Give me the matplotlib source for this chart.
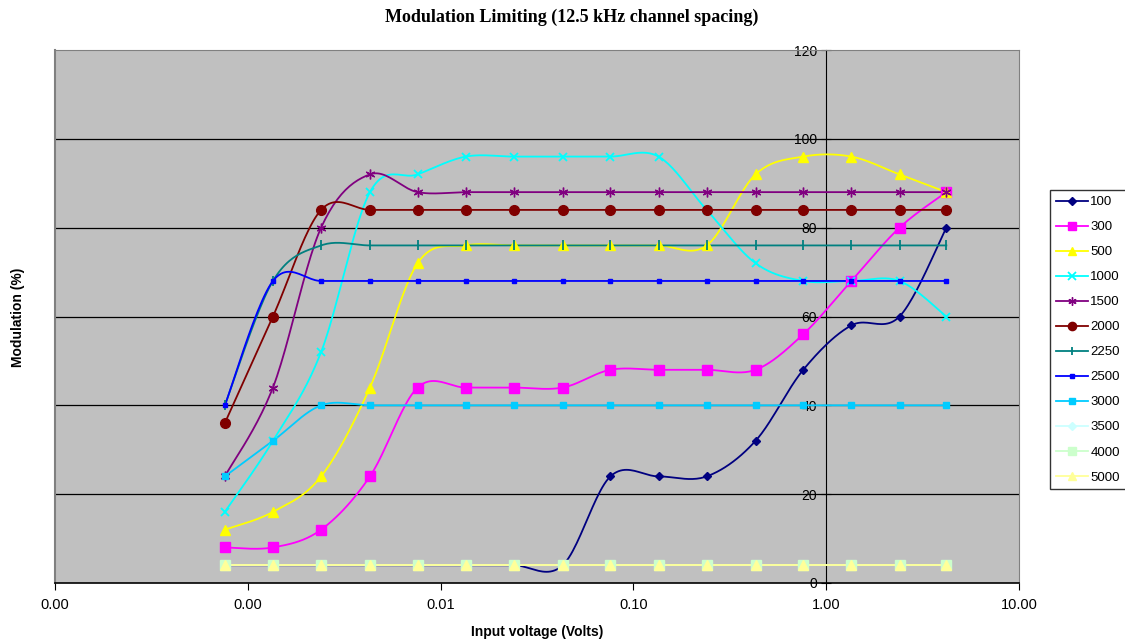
import matplotlib
matplotlib.use("Agg")
import matplotlib.pyplot as plt
import numpy as np
from matplotlib.lines import Line2D
from matplotlib.ticker import FixedLocator, FuncFormatter, NullLocator

# input voltage (V), 5 dB steps
volts = [0.00076, 0.00135, 0.0024, 0.0043, 0.0076, 0.0135, 0.024, 0.043,
         0.076, 0.135, 0.24, 0.43, 0.76, 1.35, 2.4, 4.2]

# modulation (%) per audio frequency (Hz)
mod_100 = [4, 4, 4, 4, 4, 4, 4, 4, 24, 24, 24, 32, 48, 58, 60, 80]
mod_300 = [8, 8, 12, 24, 44, 44, 44, 44, 48, 48, 48, 48, 56, 68, 80, 88]
mod_500 = [12, 16, 24, 44, 72, 76, 76, 76, 76, 76, 76, 92, 96, 96, 92, 88]
mod_1000 = [16, 32, 52, 88, 92, 96, 96, 96, 96, 96, 84, 72, 68, 68, 68, 60]
mod_1500 = [24, 44, 80, 92, 88, 88, 88, 88, 88, 88, 88, 88, 88, 88, 88, 88]
mod_2000 = [36, 60, 84, 84, 84, 84, 84, 84, 84, 84, 84, 84, 84, 84, 84, 84]
mod_2250 = [40, 68, 76, 76, 76, 76, 76, 76, 76, 76, 76, 76, 76, 76, 76, 76]
mod_2500 = [40, 68, 68, 68, 68, 68, 68, 68, 68, 68, 68, 68, 68, 68, 68, 68]
mod_3000 = [24, 32, 40, 40, 40, 40, 40, 40, 40, 40, 40, 40, 40, 40, 40, 40]
mod_3500 = [4, 4, 4, 4, 4, 4, 4, 4, 4, 4, 4, 4, 4, 4, 4, 4]
mod_4000 = [4, 4, 4, 4, 4, 4, 4, 4, 4, 4, 4, 4, 4, 4, 4, 4]
mod_5000 = [4, 4, 4, 4, 4, 4, 4, 4, 4, 4, 4, 4, 4, 4, 4, 4]

series_names = ["100", "300", "500", "1000", "1500", "2000", "2250", "2500",
                "3000", "3500", "4000", "5000"]
series_data = [mod_100, mod_300, mod_500, mod_1000, mod_1500, mod_2000,
               mod_2250, mod_2500, mod_3000, mod_3500, mod_4000, mod_5000]

# excel-ish styles: colour, marker, marker size
styles = [
    ("#000080", "D", 4.5),
    ("#FF00FF", "s", 6.5),
    ("#FFFF00", "^", 6.5),
    ("#00FFFF", "x", 6),
    ("#800080", (6, 2, 0), 7),
    ("#800000", "o", 7),
    ("#008080", "|", 7),
    ("#0000FF", "s", 3.5),
    ("#00CCFF", "s", 4.5),
    ("#CCFFFF", "D", 5),
    ("#CCFFCC", "s", 7),
    ("#FFFF99", "^", 6.5),
]


# smoothed line like Excel (catmull-rom in log-x / y space)
def smooth(xs, ys, n=24):
    lx = np.log10(xs)
    y = np.asarray(ys, dtype=float)
    px = np.concatenate([[lx[0]], lx, [lx[-1]]])
    py = np.concatenate([[y[0]], y, [y[-1]]])
    out_x, out_y = [], []
    t = np.linspace(0, 1, n, endpoint=False)
    h00 = 2 * t**3 - 3 * t**2 + 1
    h10 = t**3 - 2 * t**2 + t
    h01 = -2 * t**3 + 3 * t**2
    h11 = t**3 - t**2
    for i in range(1, len(px) - 2):
        mx0 = (px[i + 1] - px[i - 1]) / 2
        mx1 = (px[i + 2] - px[i]) / 2
        my0 = (py[i + 1] - py[i - 1]) / 2
        my1 = (py[i + 2] - py[i]) / 2
        out_x.append(h00 * px[i] + h10 * mx0 + h01 * px[i + 1] + h11 * mx1)
        out_y.append(h00 * py[i] + h10 * my0 + h01 * py[i + 1] + h11 * my1)
    out_x.append([lx[-1]])
    out_y.append([y[-1]])
    return 10 ** np.concatenate(out_x), np.concatenate(out_y)


fig = plt.figure(figsize=(11.25, 6.42), dpi=100)
ax = fig.add_axes([55 / 1125, 1 - 583 / 642, (1019 - 55) / 1125, (583 - 50) / 642])
ax.set_facecolor("#C0C0C0")
ax.set_xscale("log")
ax.set_xlim(0.0001, 10)
ax.set_ylim(0, 120)

for y in [20, 40, 60, 80, 100]:
    ax.axhline(y, color="black", lw=0.9, zorder=1)

handles = []
for name, vals, (col, mk, ms) in zip(series_names, series_data, styles):
    sx, sy = smooth(volts, vals)
    ax.plot(sx, sy, color=col, lw=1.3, zorder=3)
    mew = 1.3 if mk in ("x", "|") else 1.0
    ax.plot(volts, vals, ls="none", marker=mk, ms=ms, color=col,
            markeredgecolor=col, mew=mew, zorder=4, clip_on=False)
    handles.append(Line2D([], [], color=col, lw=1.3, marker=mk, ms=ms,
                          markeredgecolor=col, mew=mew))

# axes: y axis crosses at 1 V
for s in ["top", "right"]:
    ax.spines[s].set_color("#808080")
ax.spines["left"].set_position(("data", 1))
ax.spines["left"].set_color("black")
ax.spines["left"].set_zorder(2)
ax.spines["bottom"].set_color("black")
ax.spines["bottom"].set_linewidth(1.2)

# outer border of plot area on the left side
ax.plot([0, 0], [0, 1], transform=ax.transAxes, color="#808080", lw=1.5, clip_on=False)

ax.set_yticks([0, 20, 40, 60, 80, 100, 120])
ax.tick_params(axis="y", direction="inout", length=7, pad=3,
               labelsize=10, labelcolor="black")
ax.xaxis.set_major_locator(FixedLocator([0.0001, 0.001, 0.01, 0.1, 1, 10]))
ax.xaxis.set_minor_locator(NullLocator())
ax.xaxis.set_major_formatter(FuncFormatter(lambda v, p: f"{v:.2f}"))
ax.tick_params(axis="x", direction="out", length=5, pad=6, labelsize=10.5)
for lab in ax.get_xticklabels() + ax.get_yticklabels():
    lab.set_family("Liberation Sans")

fig.text(572 / 1125, 1 - 17 / 642, "Modulation Limiting (12.5 kHz channel spacing)",
         ha="center", va="center", fontsize=13, fontweight="bold",
         family="Liberation Serif")
fig.text(537 / 1125, 1 - 632 / 642, "Input voltage (Volts)", ha="center",
         va="center", fontsize=10, fontweight="bold", family="Liberation Sans")
fig.text(18 / 1125, 1 - 317 / 642, "Modulation (%)", ha="center", va="center",
         rotation=90, fontsize=10, fontweight="bold", family="Liberation Sans")

leg = fig.legend(handles, series_names, loc="upper left",
                 bbox_to_anchor=(1050 / 1125, 1 - 190 / 642), borderaxespad=0,
                 prop={"family": "Liberation Sans", "size": 9.5},
                 frameon=True, fancybox=False, handlelength=2.4, markerscale=0.85,
                 handletextpad=0.2, labelspacing=0.97, borderpad=0.45)
leg.get_frame().set_edgecolor("black")
leg.get_frame().set_linewidth(1.0)

fig.savefig("out.png", dpi=100, facecolor="white")
